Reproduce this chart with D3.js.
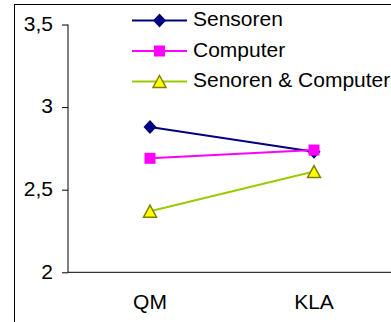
<!DOCTYPE html>
<html lang="de">
<head>
    <meta charset="UTF-8">
    <title>Sensoren / Computer</title>
    <style>
        body { margin: 0; background: #fff; }
        svg { display: block; font-family: "Liberation Sans", Arial, sans-serif; }
    </style>
</head>
<body>
<svg id="chart" width="391" height="322"></svg>

<script src="https://d3js.org/d3.v7.min.js"></script>
<script>
    // chart data
    const categories = ["QM", "KLA"];
    const seriesNames = ["Sensoren", "Computer", "Senoren & Computer"];
    const sensoren = [2.88, 2.73];
    const computer = [2.69, 2.74];
    const sensorenComputer = [2.37, 2.61];
    const yTicks = [2, 2.5, 3, 3.5];

    const series = [
        { name: seriesNames[0], values: sensoren, color: "#000080", marker: "diamond" },
        { name: seriesNames[1], values: computer, color: "#ff00ff", marker: "square" },
        { name: seriesNames[2], values: sensorenComputer, color: "#99cc00", marker: "triangle" }
    ];

    const svg = d3.select("#chart");

    // outer frame (runs off the right and bottom edge)
    svg.append("rect")
        .attr("x", 14.5).attr("y", 4.5)
        .attr("width", 500).attr("height", 500)
        .attr("fill", "none").attr("stroke", "#000");

    const plot = { left: 68, right: 396, top: 24.5, bottom: 272.3 };

    const x = d3.scaleBand().domain(categories).range([plot.left, plot.right]);
    const y = d3.scaleLinear().domain([2, 3.5]).range([plot.bottom, plot.top]);

    // y axis
    const yAxis = svg.append("g")
        .attr("transform", `translate(${plot.left},0)`)
        .call(d3.axisLeft(y).tickValues(yTicks).tickSize(6).tickPadding(9)
            .tickFormat(d => d3.format("")(d).replace(".", ",")));
    yAxis.select(".domain").attr("d", `M0,${plot.top}V${plot.bottom}`).attr("stroke", "#000");
    yAxis.selectAll(".tick line").attr("stroke", "#000");
    yAxis.selectAll(".tick text")
        .attr("fill", "#000").attr("font-size", 21).attr("dy", "0.28em");

    // x axis
    const xAxis = svg.append("g")
        .attr("transform", `translate(0,${plot.bottom})`)
        .call(d3.axisBottom(x).tickSize(0).tickPadding(0));
    xAxis.select(".domain").attr("d", `M${plot.left},0H${plot.right}`).attr("stroke", "#000");
    xAxis.selectAll(".tick text")
        .attr("fill", "#000").attr("font-size", 21)
        .attr("y", 37).attr("dy", 0);

    const cx = d => x(d) + x.bandwidth() / 2;

    function drawMarker(g, kind, color) {
        if (kind === "diamond") {
            g.append("path").attr("d", "M0,-7L6.5,0L0,7L-6.5,0Z").attr("fill", color);
        } else if (kind === "square") {
            g.append("rect").attr("x", -5.5).attr("y", -5.5).attr("width", 11).attr("height", 11)
                .attr("fill", color);
        } else {
            g.append("path").attr("d", "M0,-6L6.5,6L-6.5,6Z")
                .attr("fill", "#ffff00").attr("stroke", "#808000").attr("stroke-width", 1.5);
        }
    }

    const line = d3.line().x((d, i) => cx(categories[i])).y(d => y(d));

    series.forEach(s => {
        svg.append("path")
            .datum(s.values)
            .attr("d", line)
            .attr("fill", "none")
            .attr("stroke", s.color)
            .attr("stroke-width", 2);
        s.values.forEach((v, i) => {
            const g = svg.append("g").attr("transform", `translate(${cx(categories[i])},${y(v)})`);
            drawMarker(g, s.marker, s.color);
        });
    });

    // legend
    const legend = svg.append("g");
    series.forEach((s, i) => {
        const row = legend.append("g").attr("transform", `translate(0,${20.5 + i * 30.5})`);
        row.append("line").attr("x1", 132).attr("x2", 187)
            .attr("stroke", s.color).attr("stroke-width", 2);
        const m = row.append("g").attr("transform", "translate(159.5,0)");
        drawMarker(m, s.marker, s.color);
        row.append("text").attr("x", 193).attr("y", 5.5)
            .attr("font-size", 21).attr("fill", "#000").text(s.name);
    });
</script>
</body>
</html>
